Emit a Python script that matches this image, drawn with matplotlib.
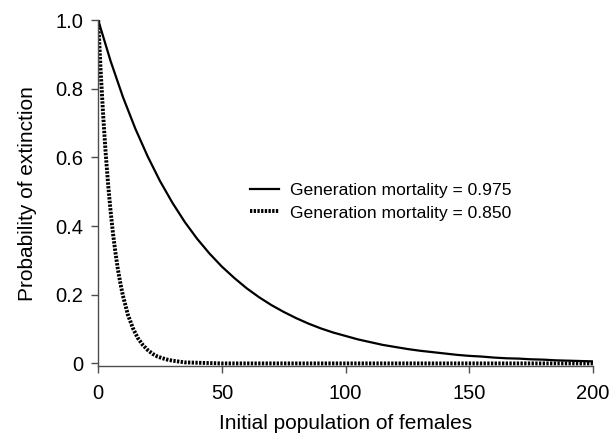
import matplotlib
matplotlib.use("Agg")
import matplotlib.pyplot as plt

# values
n_solid = [0, 5, 10, 15, 20, 25, 30, 35, 40, 45, 50, 55, 60, 65, 70, 75, 80,
           85, 90, 95, 100, 105, 110, 115, 120, 125, 130, 135, 140, 145, 150,
           155, 160, 165, 170, 175, 180, 185, 190, 195, 200]
p_solid = [1.0, 0.881, 0.776, 0.684, 0.603, 0.531, 0.468, 0.412, 0.363, 0.320,
           0.282, 0.249, 0.219, 0.193, 0.170, 0.150, 0.132, 0.116, 0.102, 0.090,
           0.080, 0.070, 0.062, 0.054, 0.048, 0.042, 0.037, 0.033, 0.029, 0.025,
           0.022, 0.020, 0.017, 0.015, 0.014, 0.012, 0.011, 0.009, 0.008, 0.007,
           0.006]

n_dot = [0, 1, 2, 3, 4, 5, 6, 7, 8, 9, 10, 12, 14, 16, 18, 20, 22, 24, 26, 28,
         30, 35, 40, 45, 50, 100, 150, 200]
p_dot = [1.0, 0.85, 0.723, 0.614, 0.522, 0.444, 0.377, 0.321, 0.272, 0.232,
         0.197, 0.142, 0.103, 0.074, 0.054, 0.039, 0.028, 0.020, 0.015, 0.011,
         0.008, 0.003, 0.002, 0.001, 0.0, 0.0, 0.0, 0.0]

labels = ["Generation mortality = 0.975", "Generation mortality = 0.850"]

plt.rcParams['font.family'] = ['Liberation Sans', 'DejaVu Sans']

fig = plt.figure(figsize=(6.1, 4.38), dpi=100)
ax = fig.add_axes([0.161, 0.164, 0.811, 0.79])

ax.plot(n_solid, p_solid, color='black', lw=1.6, label=labels[0])
ax.plot(n_dot, p_dot, color='black', lw=2.8, linestyle=(0, (0.6, 0.35)),
        label=labels[1])

ax.set_xlim(0, 200)
ax.set_ylim(-0.008, 1.0)
ax.set_xticks([0, 50, 100, 150, 200])
ax.set_yticks([0, 0.2, 0.4, 0.6, 0.8, 1.0])
ax.set_yticklabels(['0', '0.2', '0.4', '0.6', '0.8', '1.0'])
ax.tick_params(labelsize=14.5, direction='out', length=5, width=1,
               color='#4d4d4d')
ax.tick_params(axis='x', pad=8)
ax.tick_params(axis='y', pad=6)

for s in ['top', 'right']:
    ax.spines[s].set_visible(False)
for s in ['left', 'bottom']:
    ax.spines[s].set_color('#4d4d4d')
    ax.spines[s].set_linewidth(1)

ax.set_xlabel('Initial population of females', fontsize=15, labelpad=8)
ax.set_ylabel('Probability of extinction', fontsize=15, labelpad=13)

ax.legend(loc='center left', bbox_to_anchor=(0.274, 0.475), frameon=False,
          fontsize=12.6, handlelength=1.7, handletextpad=0.6, labelspacing=0.4)

fig.savefig('out.png', dpi=100)
